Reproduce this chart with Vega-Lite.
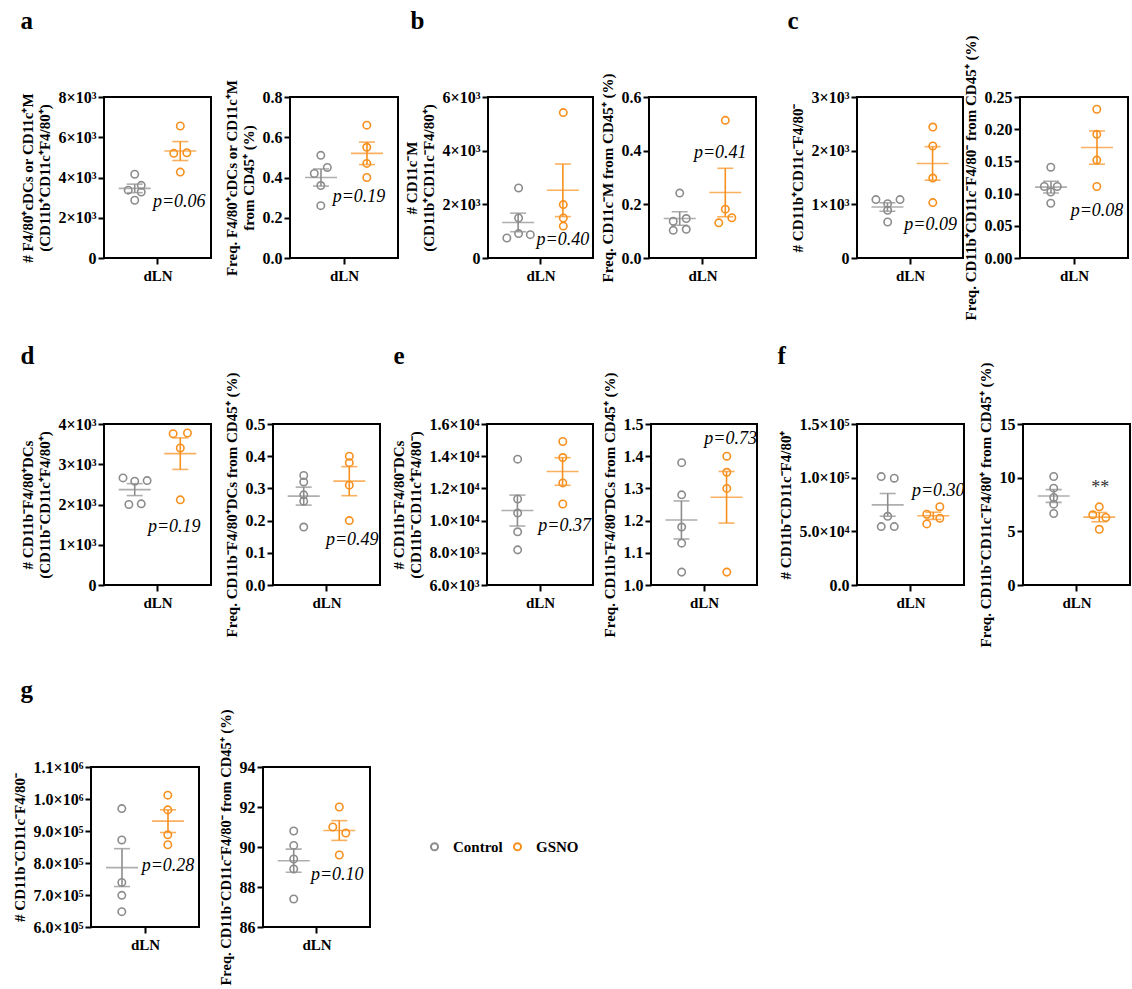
{
"$schema": "https://vega.github.io/schema/vega-lite/v6.json",
"padding": {"left": 11, "top": 7, "right": 5, "bottom": 5},
"background": "white",
"config": {
  "font": "Liberation Serif",
  "view": {"stroke": "#000000", "strokeWidth": 2},
  "axis": {"grid": false, "domain": false, "ticks": true, "tickColor": "#000000", "tickWidth": 2, "tickSize": 6, "labelFont": "Liberation Serif", "labelFontWeight": "bold", "labelFontSize": 16, "labelColor": "#000000", "titleFont": "Liberation Serif", "titleFontWeight": "bold", "titleFontSize": 15, "titleColor": "#000000", "labelPadding": 2},
  "axisY": {"titlePadding": 6},
  "legend": {"disable": true},
  "text": {"font": "Liberation Serif"}
},
"datasets": {
  "a1": [{"group":"Control","jit":0,"v":4160},{"group":"Control","jit":1,"v":3610},{"group":"Control","jit":-1,"v":3370},{"group":"Control","jit":1,"v":3280},{"group":"Control","jit":0,"v":2870},{"group":"GSNO","jit":0,"v":6560},{"group":"GSNO","jit":-1,"v":5200},{"group":"GSNO","jit":1,"v":5230},{"group":"GSNO","jit":0,"v":4270}],
  "a2": [{"group":"Control","jit":0,"v":0.51},{"group":"Control","jit":1,"v":0.45},{"group":"Control","jit":-1,"v":0.42},{"group":"Control","jit":0,"v":0.36},{"group":"Control","jit":0,"v":0.26},{"group":"GSNO","jit":0,"v":0.66},{"group":"GSNO","jit":0,"v":0.55},{"group":"GSNO","jit":0,"v":0.47},{"group":"GSNO","jit":0,"v":0.40}],
  "b1": [{"group":"Control","jit":0,"v":2610},{"group":"Control","jit":0,"v":1490},{"group":"Control","jit":-1.8,"v":745},{"group":"Control","jit":0,"v":910},{"group":"Control","jit":1.8,"v":870},{"group":"GSNO","jit":0,"v":5420},{"group":"GSNO","jit":0,"v":1990},{"group":"GSNO","jit":0,"v":1490},{"group":"GSNO","jit":0,"v":1190}],
  "b2": [{"group":"Control","jit":0,"v":0.242},{"group":"Control","jit":-1,"v":0.137},{"group":"Control","jit":1,"v":0.147},{"group":"Control","jit":-1,"v":0.103},{"group":"Control","jit":1,"v":0.107},{"group":"GSNO","jit":0,"v":0.513},{"group":"GSNO","jit":0,"v":0.182},{"group":"GSNO","jit":-1,"v":0.131},{"group":"GSNO","jit":1,"v":0.150}],
  "c1": [{"group":"Control","jit":-1.8,"v":1088},{"group":"Control","jit":0,"v":1013},{"group":"Control","jit":1.9,"v":1088},{"group":"Control","jit":0,"v":889},{"group":"Control","jit":0,"v":671},{"group":"GSNO","jit":0,"v":2440},{"group":"GSNO","jit":0,"v":2087},{"group":"GSNO","jit":0,"v":1490},{"group":"GSNO","jit":0,"v":1032}],
  "c2": [{"group":"Control","jit":0,"v":0.141},{"group":"Control","jit":-1,"v":0.111},{"group":"Control","jit":1,"v":0.111},{"group":"Control","jit":0,"v":0.1025},{"group":"Control","jit":0,"v":0.085},{"group":"GSNO","jit":0,"v":0.231},{"group":"GSNO","jit":0,"v":0.192},{"group":"GSNO","jit":0,"v":0.152},{"group":"GSNO","jit":0,"v":0.111}],
  "d1": [{"group":"Control","jit":-1.8,"v":2661},{"group":"Control","jit":0,"v":2577},{"group":"Control","jit":1.9,"v":2594},{"group":"Control","jit":-0.9,"v":2000},{"group":"Control","jit":1,"v":2017},{"group":"GSNO","jit":-1.1,"v":3759},{"group":"GSNO","jit":1.1,"v":3776},{"group":"GSNO","jit":0,"v":3405},{"group":"GSNO","jit":0,"v":2116}],
  "d2": [{"group":"Control","jit":0,"v":0.34},{"group":"Control","jit":0,"v":0.32},{"group":"Control","jit":0,"v":0.28},{"group":"Control","jit":0,"v":0.26},{"group":"Control","jit":0,"v":0.18},{"group":"GSNO","jit":0,"v":0.40},{"group":"GSNO","jit":0,"v":0.38},{"group":"GSNO","jit":0,"v":0.31},{"group":"GSNO","jit":0,"v":0.20}],
  "e1": [{"group":"Control","jit":0,"v":13817},{"group":"Control","jit":0,"v":11342},{"group":"Control","jit":0,"v":10470},{"group":"Control","jit":0,"v":9304},{"group":"Control","jit":0,"v":8182},{"group":"GSNO","jit":0,"v":14915},{"group":"GSNO","jit":0,"v":13917},{"group":"GSNO","jit":0,"v":12340},{"group":"GSNO","jit":0,"v":11031}],
  "e2": [{"group":"Control","jit":0,"v":1.38},{"group":"Control","jit":0,"v":1.28},{"group":"Control","jit":0,"v":1.18},{"group":"Control","jit":0,"v":1.13},{"group":"Control","jit":0,"v":1.04},{"group":"GSNO","jit":0,"v":1.40},{"group":"GSNO","jit":0,"v":1.35},{"group":"GSNO","jit":0,"v":1.30},{"group":"GSNO","jit":0,"v":1.04}],
  "f1": [{"group":"Control","jit":-1,"v":101000},{"group":"Control","jit":1,"v":99500},{"group":"Control","jit":0,"v":64000},{"group":"Control","jit":-1,"v":54400},{"group":"Control","jit":1,"v":54400},{"group":"GSNO","jit":1,"v":72950},{"group":"GSNO","jit":-1,"v":65900},{"group":"GSNO","jit":1,"v":62190},{"group":"GSNO","jit":-1,"v":56900}],
  "f2": [{"group":"Control","jit":0,"v":10.11},{"group":"Control","jit":0,"v":9.02},{"group":"Control","jit":0,"v":8.15},{"group":"Control","jit":0,"v":7.53},{"group":"Control","jit":0,"v":6.66},{"group":"GSNO","jit":0,"v":7.28},{"group":"GSNO","jit":-1,"v":6.54},{"group":"GSNO","jit":1,"v":6.29},{"group":"GSNO","jit":0,"v":5.19}],
  "g1": [{"group":"Control","jit":0,"v":970000},{"group":"Control","jit":0,"v":872000},{"group":"Control","jit":0,"v":739000},{"group":"Control","jit":0,"v":699000},{"group":"Control","jit":0,"v":648000},{"group":"GSNO","jit":0,"v":1012000},{"group":"GSNO","jit":0,"v":966000},{"group":"GSNO","jit":0,"v":888000},{"group":"GSNO","jit":0,"v":857000}],
  "g2": [{"group":"Control","jit":0,"v":90.8},{"group":"Control","jit":0,"v":90.08},{"group":"Control","jit":0,"v":89.4},{"group":"Control","jit":0,"v":88.9},{"group":"Control","jit":0,"v":87.4},{"group":"GSNO","jit":0,"v":92.0},{"group":"GSNO","jit":-1,"v":91.0},{"group":"GSNO","jit":1,"v":90.7},{"group":"GSNO","jit":0,"v":89.6}]
},
"vconcat": [
 {"hconcat": [
   {"width": 1, "height": 1, "data": {"values": [{"k": 0}]}, "mark": {"type": "point", "opacity": 0}, "encoding": {}, "view": {"stroke": null}},
   {"vconcat": [
     {"hconcat": [
       {"hconcat": [
         {"width": 107, "height": 161, "data": {"name": "a1"},
          "encoding": {
            "x": {"field": "group", "type": "nominal", "scale": {"type": "band", "domain": ["Control","GSNO"], "paddingInner": 0, "paddingOuter": 0.174}, "axis": null},
            "y": {"field": "v", "type": "quantitative", "scale": {"domain": [0, 8000], "nice": false, "zero": false}, "axis": {"values": [0,2000,4000,6000,8000], "labelExpr": "datum.value == 0 ? '0' : (datum.value/1000) + '×10³'", "title": ["# F4/80⁺cDCs or CD11c⁺M", "(CD11b⁺CD11c⁺F4/80⁺)"]}},
            "color": {"field": "group", "type": "nominal", "scale": {"range": ["#8C8C8C","#F7901E"]}}},
          "layer": [
            {"transform": [{"aggregate": [{"op": "mean", "field": "v", "as": "v"}], "groupby": ["group"]}], "mark": {"type": "tick", "size": 32, "thickness": 1.6}, "encoding": {"x": {"field": "group", "type": "nominal", "axis": {"orient": "top", "labels": false, "ticks": false, "domain": false, "title": "a", "titleX": -84, "titleY": -69, "titleAlign": "left", "titleBaseline": "alphabetic", "titleFontSize": 25, "titleAngle": 0}}}},
            {"mark": {"type": "errorbar", "extent": "stderr", "ticks": true, "size": 16, "thickness": 1.6}, "encoding": {"x": {"field": "group", "type": "nominal", "axis": {"orient": "bottom", "values": ["Control"], "bandPosition": 1, "labels": false, "title": "dLN", "titlePadding": 3}}}},
            {"mark": {"type": "point", "filled": false, "size": 55, "strokeWidth": 1.6, "opacity": 1}, "encoding": {"xOffset": {"field": "jit", "type": "quantitative", "scale": {"domain": [-3.5, 3.5], "range": [0, 45.6]}}, "stroke": {"field": "group", "type": "nominal", "scale": {"domain": ["Control","GSNO"], "range": ["#8C8C8C","#F7901E"]}}}},
            {"data": {"values": [{"group": "GSNO", "v": 2768, "t": "p=0.06"}]}, "mark": {"type": "text", "fontStyle": "italic", "fontSize": 18, "baseline": "middle", "dx": -1}, "encoding": {"text": {"field": "t", "type": "nominal"}, "color": {"value": "#000000"}}}
          ]},
         {"width": 108, "height": 161, "data": {"name": "a2"},
          "encoding": {
            "x": {"field": "group", "type": "nominal", "scale": {"type": "band", "domain": ["Control","GSNO"], "paddingInner": 0, "paddingOuter": 0.174}, "axis": {"orient": "bottom", "values": ["Control"], "bandPosition": 1, "labels": false, "title": "dLN", "titlePadding": 3}},
            "y": {"field": "v", "type": "quantitative", "scale": {"domain": [0, 0.8], "nice": false, "zero": false}, "axis": {"values": [0,0.2,0.4,0.6,0.8], "format": ".1f", "title": ["Freq. F4/80⁺cDCs or CD11c⁺M", "from CD45⁺ (%)"]}},
            "color": {"field": "group", "type": "nominal", "scale": {"range": ["#8C8C8C","#F7901E"]}}},
          "layer": [
            {"transform": [{"aggregate": [{"op": "mean", "field": "v", "as": "v"}], "groupby": ["group"]}], "mark": {"type": "tick", "size": 32, "thickness": 1.6}},
            {"mark": {"type": "errorbar", "extent": "stderr", "ticks": true, "size": 16, "thickness": 1.6}},
            {"mark": {"type": "point", "filled": false, "size": 55, "strokeWidth": 1.6, "opacity": 1}, "encoding": {"xOffset": {"field": "jit", "type": "quantitative", "scale": {"domain": [-3.5, 3.5], "range": [0, 45.6]}}, "stroke": {"field": "group", "type": "nominal", "scale": {"domain": ["Control","GSNO"], "range": ["#8C8C8C","#F7901E"]}}}},
            {"data": {"values": [{"group": "GSNO", "v": 0.303, "t": "p=0.19"}]}, "mark": {"type": "text", "fontStyle": "italic", "fontSize": 18, "baseline": "middle", "dx": -8}, "encoding": {"text": {"field": "t", "type": "nominal"}, "color": {"value": "#000000"}}}
          ]}
       ], "spacing": 79, "bounds": "flush"},
       {"hconcat": [
         {"hconcat": [
           {"width": 105, "height": 161, "data": {"name": "b1"},
            "encoding": {
              "x": {"field": "group", "type": "nominal", "scale": {"type": "band", "domain": ["Control","GSNO"], "paddingInner": 0, "paddingOuter": 0.174}, "axis": null},
              "y": {"field": "v", "type": "quantitative", "scale": {"domain": [0, 6000], "nice": false, "zero": false}, "axis": {"values": [0,2000,4000,6000], "labelExpr": "datum.value == 0 ? '0' : (datum.value/1000) + '×10³'", "title": ["# CD11c⁻M", "(CD11b⁺CD11c⁻F4/80⁺)"]}},
              "color": {"field": "group", "type": "nominal", "scale": {"range": ["#8C8C8C","#F7901E"]}}},
            "layer": [
              {"transform": [{"aggregate": [{"op": "mean", "field": "v", "as": "v"}], "groupby": ["group"]}], "mark": {"type": "tick", "size": 32, "thickness": 1.6}, "encoding": {"x": {"field": "group", "type": "nominal", "axis": {"orient": "top", "labels": false, "ticks": false, "domain": false, "title": "b", "titleX": -78, "titleY": -69, "titleAlign": "left", "titleBaseline": "alphabetic", "titleFontSize": 25, "titleAngle": 0}}}},
              {"mark": {"type": "errorbar", "extent": "stderr", "ticks": true, "size": 16, "thickness": 1.6}, "encoding": {"x": {"field": "group", "type": "nominal", "axis": {"orient": "bottom", "values": ["Control"], "bandPosition": 1, "labels": false, "title": "dLN", "titlePadding": 3}}}},
              {"mark": {"type": "point", "filled": false, "size": 55, "strokeWidth": 1.6, "opacity": 1}, "encoding": {"xOffset": {"field": "jit", "type": "quantitative", "scale": {"domain": [-3.5, 3.5], "range": [0, 45.6]}}, "stroke": {"field": "group", "type": "nominal", "scale": {"domain": ["Control","GSNO"], "range": ["#8C8C8C","#F7901E"]}}}},
              {"data": {"values": [{"group": "GSNO", "v": 660, "t": "p=0.40"}]}, "mark": {"type": "text", "fontStyle": "italic", "fontSize": 18, "baseline": "middle", "dx": 0}, "encoding": {"text": {"field": "t", "type": "nominal"}, "color": {"value": "#000000"}}}
            ]},
           {"width": 107, "height": 161, "data": {"name": "b2"},
            "encoding": {
              "x": {"field": "group", "type": "nominal", "scale": {"type": "band", "domain": ["Control","GSNO"], "paddingInner": 0, "paddingOuter": 0.174}, "axis": {"orient": "bottom", "values": ["Control"], "bandPosition": 1, "labels": false, "title": "dLN", "titlePadding": 3}},
              "y": {"field": "v", "type": "quantitative", "scale": {"domain": [0, 0.6], "nice": false, "zero": false}, "axis": {"values": [0,0.2,0.4,0.6], "format": ".1f", "title": "Freq. CD11c⁻M from CD45⁺ (%)"}},
              "color": {"field": "group", "type": "nominal", "scale": {"range": ["#8C8C8C","#F7901E"]}}},
            "layer": [
              {"transform": [{"aggregate": [{"op": "mean", "field": "v", "as": "v"}], "groupby": ["group"]}], "mark": {"type": "tick", "size": 32, "thickness": 1.6}},
              {"mark": {"type": "errorbar", "extent": "stderr", "ticks": true, "size": 16, "thickness": 1.6}},
              {"mark": {"type": "point", "filled": false, "size": 55, "strokeWidth": 1.6, "opacity": 1}, "encoding": {"xOffset": {"field": "jit", "type": "quantitative", "scale": {"domain": [-3.5, 3.5], "range": [0, 45.6]}}, "stroke": {"field": "group", "type": "nominal", "scale": {"domain": ["Control","GSNO"], "range": ["#8C8C8C","#F7901E"]}}}},
              {"data": {"values": [{"group": "GSNO", "v": 0.39, "t": "p=0.41"}]}, "mark": {"type": "text", "fontStyle": "italic", "fontSize": 18, "baseline": "middle", "dx": -5}, "encoding": {"text": {"field": "t", "type": "nominal"}, "color": {"value": "#000000"}}}
            ]}
         ], "spacing": 56, "bounds": "flush"},
         {"hconcat": [
           {"width": 106, "height": 161, "data": {"name": "c1"},
            "encoding": {
              "x": {"field": "group", "type": "nominal", "scale": {"type": "band", "domain": ["Control","GSNO"], "paddingInner": 0, "paddingOuter": 0.174}, "axis": null},
              "y": {"field": "v", "type": "quantitative", "scale": {"domain": [0, 3000], "nice": false, "zero": false}, "axis": {"values": [0,1000,2000,3000], "labelExpr": "datum.value == 0 ? '0' : (datum.value/1000) + '×10³'", "title": "# CD11b⁺CD11c⁻F4/80⁻"}},
              "color": {"field": "group", "type": "nominal", "scale": {"range": ["#8C8C8C","#F7901E"]}}},
            "layer": [
              {"transform": [{"aggregate": [{"op": "mean", "field": "v", "as": "v"}], "groupby": ["group"]}], "mark": {"type": "tick", "size": 32, "thickness": 1.6}, "encoding": {"x": {"field": "group", "type": "nominal", "axis": {"orient": "top", "labels": false, "ticks": false, "domain": false, "title": "c", "titleX": -70, "titleY": -69, "titleAlign": "left", "titleBaseline": "alphabetic", "titleFontSize": 25, "titleAngle": 0}}}},
              {"mark": {"type": "errorbar", "extent": "stderr", "ticks": true, "size": 16, "thickness": 1.6}, "encoding": {"x": {"field": "group", "type": "nominal", "axis": {"orient": "bottom", "values": ["Control"], "bandPosition": 1, "labels": false, "title": "dLN", "titlePadding": 3}}}},
              {"mark": {"type": "point", "filled": false, "size": 55, "strokeWidth": 1.6, "opacity": 1}, "encoding": {"xOffset": {"field": "jit", "type": "quantitative", "scale": {"domain": [-3.5, 3.5], "range": [0, 45.6]}}, "stroke": {"field": "group", "type": "nominal", "scale": {"domain": ["Control","GSNO"], "range": ["#8C8C8C","#F7901E"]}}}},
              {"data": {"values": [{"group": "GSNO", "v": 609, "t": "p=0.09"}]}, "mark": {"type": "text", "fontStyle": "italic", "fontSize": 18, "baseline": "middle", "dx": -2}, "encoding": {"text": {"field": "t", "type": "nominal"}, "color": {"value": "#000000"}}}
            ]},
           {"width": 108, "height": 161, "data": {"name": "c2"},
            "encoding": {
              "x": {"field": "group", "type": "nominal", "scale": {"type": "band", "domain": ["Control","GSNO"], "paddingInner": 0, "paddingOuter": 0.174}, "axis": {"orient": "bottom", "values": ["Control"], "bandPosition": 1, "labels": false, "title": "dLN", "titlePadding": 3}},
              "y": {"field": "v", "type": "quantitative", "scale": {"domain": [0, 0.25], "nice": false, "zero": false}, "axis": {"values": [0,0.05,0.1,0.15,0.2,0.25], "format": ".2f", "title": "Freq. CD11b⁺CD11c⁻F4/80⁻ from CD45⁺ (%)"}},
              "color": {"field": "group", "type": "nominal", "scale": {"range": ["#8C8C8C","#F7901E"]}}},
            "layer": [
              {"transform": [{"aggregate": [{"op": "mean", "field": "v", "as": "v"}], "groupby": ["group"]}], "mark": {"type": "tick", "size": 32, "thickness": 1.6}},
              {"mark": {"type": "errorbar", "extent": "stderr", "ticks": true, "size": 16, "thickness": 1.6}},
              {"mark": {"type": "point", "filled": false, "size": 55, "strokeWidth": 1.6, "opacity": 1}, "encoding": {"xOffset": {"field": "jit", "type": "quantitative", "scale": {"domain": [-3.5, 3.5], "range": [0, 45.6]}}, "stroke": {"field": "group", "type": "nominal", "scale": {"domain": ["Control","GSNO"], "range": ["#8C8C8C","#F7901E"]}}}},
              {"data": {"values": [{"group": "GSNO", "v": 0.0725, "t": "p=0.08"}]}, "mark": {"type": "text", "fontStyle": "italic", "fontSize": 18, "baseline": "middle", "dx": 0}, "encoding": {"text": {"field": "t", "type": "nominal"}, "color": {"value": "#000000"}}}
            ]}
         ], "spacing": 57, "bounds": "flush"}
       ], "spacing": 369, "bounds": "flush"}
     ], "spacing": 384, "bounds": "flush"},
     {"hconcat": [
       {"hconcat": [
         {"width": 107, "height": 161, "data": {"name": "d1"},
          "encoding": {
            "x": {"field": "group", "type": "nominal", "scale": {"type": "band", "domain": ["Control","GSNO"], "paddingInner": 0, "paddingOuter": 0.174}, "axis": null},
            "y": {"field": "v", "type": "quantitative", "scale": {"domain": [0, 4000], "nice": false, "zero": false}, "axis": {"values": [0,1000,2000,3000,4000], "labelExpr": "datum.value == 0 ? '0' : (datum.value/1000) + '×10³'", "title": ["# CD11b⁻F4/80⁺DCs", "(CD11b⁻CD11c⁺F4/80⁺)"]}},
            "color": {"field": "group", "type": "nominal", "scale": {"range": ["#8C8C8C","#F7901E"]}}},
          "layer": [
            {"transform": [{"aggregate": [{"op": "mean", "field": "v", "as": "v"}], "groupby": ["group"]}], "mark": {"type": "tick", "size": 32, "thickness": 1.6}, "encoding": {"x": {"field": "group", "type": "nominal", "axis": {"orient": "top", "labels": false, "ticks": false, "domain": false, "title": "d", "titleX": -84, "titleY": -61, "titleAlign": "left", "titleBaseline": "alphabetic", "titleFontSize": 25, "titleAngle": 0}}}},
            {"mark": {"type": "errorbar", "extent": "stderr", "ticks": true, "size": 16, "thickness": 1.6}, "encoding": {"x": {"field": "group", "type": "nominal", "axis": {"orient": "bottom", "values": ["Control"], "bandPosition": 1, "labels": false, "title": "dLN", "titlePadding": 3}}}},
            {"mark": {"type": "point", "filled": false, "size": 55, "strokeWidth": 1.6, "opacity": 1}, "encoding": {"xOffset": {"field": "jit", "type": "quantitative", "scale": {"domain": [-3.5, 3.5], "range": [0, 45.6]}}, "stroke": {"field": "group", "type": "nominal", "scale": {"domain": ["Control","GSNO"], "range": ["#8C8C8C","#F7901E"]}}}},
            {"data": {"values": [{"group": "GSNO", "v": 1430, "t": "p=0.19"}]}, "mark": {"type": "text", "fontStyle": "italic", "fontSize": 18, "baseline": "middle", "dx": -6}, "encoding": {"text": {"field": "t", "type": "nominal"}, "color": {"value": "#000000"}}}
          ]},
         {"width": 107, "height": 161, "data": {"name": "d2"},
          "encoding": {
            "x": {"field": "group", "type": "nominal", "scale": {"type": "band", "domain": ["Control","GSNO"], "paddingInner": 0, "paddingOuter": 0.174}, "axis": {"orient": "bottom", "values": ["Control"], "bandPosition": 1, "labels": false, "title": "dLN", "titlePadding": 3}},
            "y": {"field": "v", "type": "quantitative", "scale": {"domain": [0, 0.5], "nice": false, "zero": false}, "axis": {"values": [0,0.1,0.2,0.3,0.4,0.5], "format": ".1f", "title": "Freq. CD11b⁻F4/80⁺DCs from CD45⁺ (%)"}},
            "color": {"field": "group", "type": "nominal", "scale": {"range": ["#8C8C8C","#F7901E"]}}},
          "layer": [
            {"transform": [{"aggregate": [{"op": "mean", "field": "v", "as": "v"}], "groupby": ["group"]}], "mark": {"type": "tick", "size": 32, "thickness": 1.6}},
            {"mark": {"type": "errorbar", "extent": "stderr", "ticks": true, "size": 16, "thickness": 1.6}},
            {"mark": {"type": "point", "filled": false, "size": 55, "strokeWidth": 1.6, "opacity": 1}, "encoding": {"xOffset": {"field": "jit", "type": "quantitative", "scale": {"domain": [-3.5, 3.5], "range": [0, 45.6]}}, "stroke": {"field": "group", "type": "nominal", "scale": {"domain": ["Control","GSNO"], "range": ["#8C8C8C","#F7901E"]}}}},
            {"data": {"values": [{"group": "GSNO", "v": 0.1385, "t": "p=0.49"}]}, "mark": {"type": "text", "fontStyle": "italic", "fontSize": 18, "baseline": "middle", "dx": 3}, "encoding": {"text": {"field": "t", "type": "nominal"}, "color": {"value": "#000000"}}}
          ]}
       ], "spacing": 62, "bounds": "flush"},
       {"hconcat": [
         {"hconcat": [
           {"width": 106, "height": 161, "data": {"name": "e1"},
            "encoding": {
              "x": {"field": "group", "type": "nominal", "scale": {"type": "band", "domain": ["Control","GSNO"], "paddingInner": 0, "paddingOuter": 0.174}, "axis": null},
              "y": {"field": "v", "type": "quantitative", "scale": {"domain": [6000, 16000], "nice": false, "zero": false}, "axis": {"values": [6000,8000,10000,12000,14000,16000], "labelExpr": "datum.value < 10000 ? format(datum.value/1000, '.1f') + '×10³' : format(datum.value/10000, '.1f') + '×10⁴'", "title": ["# CD11b⁻F4/80⁻DCs", "(CD11b⁻CD11c⁺F4/80⁻)"]}},
              "color": {"field": "group", "type": "nominal", "scale": {"range": ["#8C8C8C","#F7901E"]}}},
            "layer": [
              {"transform": [{"aggregate": [{"op": "mean", "field": "v", "as": "v"}], "groupby": ["group"]}], "mark": {"type": "tick", "size": 32, "thickness": 1.6}, "encoding": {"x": {"field": "group", "type": "nominal", "axis": {"orient": "top", "labels": false, "ticks": false, "domain": false, "title": "e", "titleX": -94, "titleY": -61, "titleAlign": "left", "titleBaseline": "alphabetic", "titleFontSize": 25, "titleAngle": 0}}}},
              {"mark": {"type": "errorbar", "extent": "stderr", "ticks": true, "size": 16, "thickness": 1.6}, "encoding": {"x": {"field": "group", "type": "nominal", "axis": {"orient": "bottom", "values": ["Control"], "bandPosition": 1, "labels": false, "title": "dLN", "titlePadding": 3}}}},
              {"mark": {"type": "point", "filled": false, "size": 55, "strokeWidth": 1.6, "opacity": 1}, "encoding": {"xOffset": {"field": "jit", "type": "quantitative", "scale": {"domain": [-3.5, 3.5], "range": [0, 45.6]}}, "stroke": {"field": "group", "type": "nominal", "scale": {"domain": ["Control","GSNO"], "range": ["#8C8C8C","#F7901E"]}}}},
              {"data": {"values": [{"group": "GSNO", "v": 9659, "t": "p=0.37"}]}, "mark": {"type": "text", "fontStyle": "italic", "fontSize": 18, "baseline": "middle", "dx": 2}, "encoding": {"text": {"field": "t", "type": "nominal"}, "color": {"value": "#000000"}}}
            ]},
           {"width": 106, "height": 161, "data": {"name": "e2"},
            "encoding": {
              "x": {"field": "group", "type": "nominal", "scale": {"type": "band", "domain": ["Control","GSNO"], "paddingInner": 0, "paddingOuter": 0.174}, "axis": {"orient": "bottom", "values": ["Control"], "bandPosition": 1, "labels": false, "title": "dLN", "titlePadding": 3}},
              "y": {"field": "v", "type": "quantitative", "scale": {"domain": [1.0, 1.5], "nice": false, "zero": false}, "axis": {"values": [1.0,1.1,1.2,1.3,1.4,1.5], "format": ".1f", "title": "Freq. CD11b⁻F4/80⁻DCs from CD45⁺ (%)"}},
              "color": {"field": "group", "type": "nominal", "scale": {"range": ["#8C8C8C","#F7901E"]}}},
            "layer": [
              {"transform": [{"aggregate": [{"op": "mean", "field": "v", "as": "v"}], "groupby": ["group"]}], "mark": {"type": "tick", "size": 32, "thickness": 1.6}},
              {"mark": {"type": "errorbar", "extent": "stderr", "ticks": true, "size": 16, "thickness": 1.6}},
              {"mark": {"type": "point", "filled": false, "size": 55, "strokeWidth": 1.6, "opacity": 1}, "encoding": {"xOffset": {"field": "jit", "type": "quantitative", "scale": {"domain": [-3.5, 3.5], "range": [0, 45.6]}}, "stroke": {"field": "group", "type": "nominal", "scale": {"domain": ["Control","GSNO"], "range": ["#8C8C8C","#F7901E"]}}}},
              {"data": {"values": [{"group": "GSNO", "v": 1.454, "t": "p=0.73"}]}, "mark": {"type": "text", "fontStyle": "italic", "fontSize": 18, "baseline": "middle", "dx": 4}, "encoding": {"text": {"field": "t", "type": "nominal"}, "color": {"value": "#000000"}}}
            ]}
         ], "spacing": 58, "bounds": "flush"},
         {"hconcat": [
           {"width": 107, "height": 161, "data": {"name": "f1"},
            "encoding": {
              "x": {"field": "group", "type": "nominal", "scale": {"type": "band", "domain": ["Control","GSNO"], "paddingInner": 0, "paddingOuter": 0.174}, "axis": null},
              "y": {"field": "v", "type": "quantitative", "scale": {"domain": [0, 150000], "nice": false, "zero": false}, "axis": {"values": [0,50000,100000,150000], "labelExpr": "datum.value == 0 ? '0.0' : datum.value < 100000 ? format(datum.value/10000, '.1f') + '×10⁴' : format(datum.value/100000, '.1f') + '×10⁵'", "title": "# CD11b⁻CD11c⁻F4/80⁺"}},
              "color": {"field": "group", "type": "nominal", "scale": {"range": ["#8C8C8C","#F7901E"]}}},
            "layer": [
              {"transform": [{"aggregate": [{"op": "mean", "field": "v", "as": "v"}], "groupby": ["group"]}], "mark": {"type": "tick", "size": 32, "thickness": 1.6}, "encoding": {"x": {"field": "group", "type": "nominal", "axis": {"orient": "top", "labels": false, "ticks": false, "domain": false, "title": "f", "titleX": -80, "titleY": -61, "titleAlign": "left", "titleBaseline": "alphabetic", "titleFontSize": 25, "titleAngle": 0}}}},
              {"mark": {"type": "errorbar", "extent": "stderr", "ticks": true, "size": 16, "thickness": 1.6}, "encoding": {"x": {"field": "group", "type": "nominal", "axis": {"orient": "bottom", "values": ["Control"], "bandPosition": 1, "labels": false, "title": "dLN", "titlePadding": 3}}}},
              {"mark": {"type": "point", "filled": false, "size": 55, "strokeWidth": 1.6, "opacity": 1}, "encoding": {"xOffset": {"field": "jit", "type": "quantitative", "scale": {"domain": [-3.5, 3.5], "range": [0, 45.6]}}, "stroke": {"field": "group", "type": "nominal", "scale": {"domain": ["Control","GSNO"], "range": ["#8C8C8C","#F7901E"]}}}},
              {"data": {"values": [{"group": "GSNO", "v": 87530, "t": "p=0.30"}]}, "mark": {"type": "text", "fontStyle": "italic", "fontSize": 18, "baseline": "middle", "dx": 5}, "encoding": {"text": {"field": "t", "type": "nominal"}, "color": {"value": "#000000"}}}
            ]},
           {"width": 107, "height": 161, "data": {"name": "f2"},
            "encoding": {
              "x": {"field": "group", "type": "nominal", "scale": {"type": "band", "domain": ["Control","GSNO"], "paddingInner": 0, "paddingOuter": 0.174}, "axis": {"orient": "bottom", "values": ["Control"], "bandPosition": 1, "labels": false, "title": "dLN", "titlePadding": 3}},
              "y": {"field": "v", "type": "quantitative", "scale": {"domain": [0, 15], "nice": false, "zero": false}, "axis": {"values": [0,5,10,15], "format": "d", "title": "Freq. CD11b⁻CD11c⁻F4/80⁺ from CD45⁺ (%)"}},
              "color": {"field": "group", "type": "nominal", "scale": {"range": ["#8C8C8C","#F7901E"]}}},
            "layer": [
              {"transform": [{"aggregate": [{"op": "mean", "field": "v", "as": "v"}], "groupby": ["group"]}], "mark": {"type": "tick", "size": 32, "thickness": 1.6}},
              {"mark": {"type": "errorbar", "extent": "stderr", "ticks": true, "size": 16, "thickness": 1.6}},
              {"mark": {"type": "point", "filled": false, "size": 55, "strokeWidth": 1.6, "opacity": 1}, "encoding": {"xOffset": {"field": "jit", "type": "quantitative", "scale": {"domain": [-3.5, 3.5], "range": [0, 45.6]}}, "stroke": {"field": "group", "type": "nominal", "scale": {"domain": ["Control","GSNO"], "range": ["#8C8C8C","#F7901E"]}}}},
              {"data": {"values": [{"group": "GSNO", "v": 9.0, "t": "**"}]}, "mark": {"type": "text", "fontSize": 18, "baseline": "middle", "dx": 1}, "encoding": {"text": {"field": "t", "type": "nominal"}, "color": {"value": "#333333"}}}
            ]}
         ], "spacing": 59, "bounds": "flush"}
       ], "spacing": 370, "bounds": "flush"}
     ], "spacing": 383, "bounds": "flush"}
   ], "spacing": 327, "bounds": "flush"}
 ], "spacing": 12, "bounds": "flush"},
 {"hconcat": [
   {"width": 108, "height": 160, "data": {"name": "g1"},
    "encoding": {
      "x": {"field": "group", "type": "nominal", "scale": {"type": "band", "domain": ["Control","GSNO"], "paddingInner": 0, "paddingOuter": 0.174}, "axis": null},
      "y": {"field": "v", "type": "quantitative", "scale": {"domain": [600000, 1100000], "nice": false, "zero": false}, "axis": {"values": [600000,700000,800000,900000,1000000,1100000], "labelExpr": "datum.value < 1000000 ? format(datum.value/100000, '.1f') + '×10⁵' : format(datum.value/1000000, '.1f') + '×10⁶'", "title": "# CD11b⁻CD11c⁻F4/80⁻"}},
      "color": {"field": "group", "type": "nominal", "scale": {"range": ["#8C8C8C","#F7901E"]}}},
    "layer": [
      {"transform": [{"aggregate": [{"op": "mean", "field": "v", "as": "v"}], "groupby": ["group"]}], "mark": {"type": "tick", "size": 32, "thickness": 1.6}, "encoding": {"x": {"field": "group", "type": "nominal", "axis": {"orient": "top", "labels": false, "ticks": false, "domain": false, "title": "g", "titleX": -71, "titleY": -70, "titleAlign": "left", "titleBaseline": "alphabetic", "titleFontSize": 25, "titleAngle": 0}}}},
      {"mark": {"type": "errorbar", "extent": "stderr", "ticks": true, "size": 16, "thickness": 1.6}, "encoding": {"x": {"field": "group", "type": "nominal", "axis": {"orient": "bottom", "values": ["Control"], "bandPosition": 1, "labels": false, "title": "dLN", "titlePadding": 3}}}},
      {"mark": {"type": "point", "filled": false, "size": 55, "strokeWidth": 1.6, "opacity": 1}, "encoding": {"xOffset": {"field": "jit", "type": "quantitative", "scale": {"domain": [-3.5, 3.5], "range": [0, 45.6]}}, "stroke": {"field": "group", "type": "nominal", "scale": {"domain": ["Control","GSNO"], "range": ["#8C8C8C","#F7901E"]}}}},
      {"data": {"values": [{"group": "GSNO", "v": 791600, "t": "p=0.28"}]}, "mark": {"type": "text", "fontStyle": "italic", "fontSize": 18, "baseline": "middle", "dx": 0}, "encoding": {"text": {"field": "t", "type": "nominal"}, "color": {"value": "#000000"}}}
    ]},
   {"width": 107, "height": 160, "data": {"name": "g2"},
    "encoding": {
      "x": {"field": "group", "type": "nominal", "scale": {"type": "band", "domain": ["Control","GSNO"], "paddingInner": 0, "paddingOuter": 0.174}, "axis": {"orient": "bottom", "values": ["Control"], "bandPosition": 1, "labels": false, "title": "dLN", "titlePadding": 3}},
      "y": {"field": "v", "type": "quantitative", "scale": {"domain": [86, 94], "nice": false, "zero": false}, "axis": {"values": [86,88,90,92,94], "format": "d", "title": "Freq. CD11b⁻CD11c⁻F4/80⁻ from CD45⁺ (%)", "titleFontSize": 14.5}},
      "color": {"field": "group", "type": "nominal", "scale": {"range": ["#8C8C8C","#F7901E"]}}},
    "layer": [
      {"transform": [{"aggregate": [{"op": "mean", "field": "v", "as": "v"}], "groupby": ["group"]}], "mark": {"type": "tick", "size": 32, "thickness": 1.6}},
      {"mark": {"type": "errorbar", "extent": "stderr", "ticks": true, "size": 16, "thickness": 1.6}},
      {"mark": {"type": "point", "filled": false, "size": 55, "strokeWidth": 1.6, "opacity": 1}, "encoding": {"xOffset": {"field": "jit", "type": "quantitative", "scale": {"domain": [-3.5, 3.5], "range": [0, 45.6]}}, "stroke": {"field": "group", "type": "nominal", "scale": {"domain": ["Control","GSNO"], "range": ["#8C8C8C","#F7901E"]}, "legend": {"orient": "none", "legendX": 336, "legendY": 742, "direction": "horizontal", "title": null, "labelFont": "Liberation Serif", "labelFontWeight": "bold", "labelFontSize": 15, "labelColor": "#000000", "symbolStrokeWidth": 2, "symbolSize": 50, "symbolType": "circle", "symbolFillColor": "white", "columnPadding": 6, "labelOffset": 11, "padding": 0, "encode": {"symbols": {"fill": {"value": "white"}, "strokeWidth": {"value": 2}}}}}}},
      {"data": {"values": [{"group": "GSNO", "v": 88.6, "t": "p=0.10"}]}, "mark": {"type": "text", "fontStyle": "italic", "fontSize": 18, "baseline": "middle", "dx": -2}, "encoding": {"text": {"field": "t", "type": "nominal"}, "color": {"value": "#000000"}}}
    ]}
 ], "spacing": 64, "bounds": "flush"}
],
"spacing": 670,
"bounds": "flush"
}
